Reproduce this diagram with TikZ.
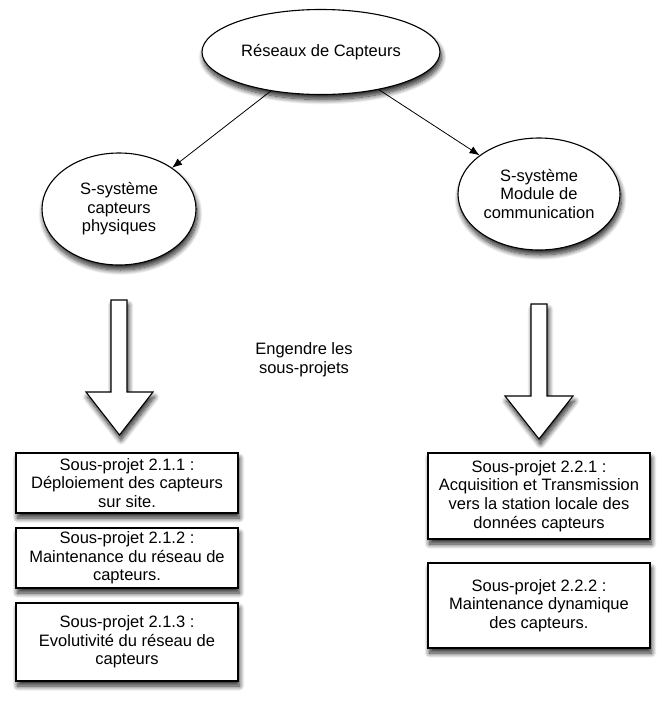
\documentclass[tikz,border=0pt]{standalone}
\usepackage{fontspec}
\setmainfont{Liberation Sans}
\usetikzlibrary{shapes.geometric,arrows.meta,shadows.blur}
\begin{document}
\begin{tikzpicture}[x=1pt,y=-1pt,
  every node/.style={font=\fontsize{16.5}{18.6}\selectfont, align=center, inner sep=0pt},
  shad/.style={blur shadow={shadow xshift=1.5pt, shadow yshift=-5pt, shadow blur radius=5pt, shadow blur steps=12, shadow opacity=85}},
  ell/.style={ellipse, draw=black, line width=1.1pt, fill=white, shad},
  sbox/.style={draw=black, line width=1.1pt, fill=white, minimum width=222pt, shad},
  conn/.style={-{Latex[length=10pt,width=8pt]}, line width=0.8pt},
  barrow/.style={draw=black, line width=1.1pt, fill=white, line join=miter, shad}
]
\useasboundingbox (0,0) rectangle (661,702);

\node[ell, minimum width=238pt, minimum height=85pt] (top) at (321,52) {Réseaux de Capteurs};
\node[ell, minimum width=154pt, minimum height=112pt] (left) at (119,209) {S-système\\capteurs\\physiques};
\node[ell, minimum width=162pt, minimum height=112pt] (right) at (539,194) {S-système\\Module de\\communication};

\draw[conn] (top) -- (left);
\draw[conn] (top) -- (right);

% block arrows
\draw[barrow] (111,300) -- (127,300) -- (127,392) -- (153,392) -- (119.5,435) -- (86,392) -- (111,392) -- cycle;
\draw[barrow] (531,304) -- (547,304) -- (547,396) -- (573,396) -- (539,439) -- (505,396) -- (531,396) -- cycle;

\node (eng) at (304,360) {Engendre les\\sous-projets};

\node[sbox, minimum height=60pt] (b1) at (127,483) {Sous-projet 2.1.1 :\\Déploiement des capteurs\\sur site.};
\node[sbox, minimum height=60pt] (b2) at (127,558) {Sous-projet 2.1.2 :\\Maintenance du réseau de\\capteurs.};
\node[sbox, minimum height=78pt] (b3) at (127,642) {Sous-projet 2.1.3 :\\Evolutivité du réseau de\\capteurs};
\node[sbox, minimum height=86pt] (b4) at (539,496) {Sous-projet 2.2.1 :\\Acquisition et Transmission\\vers la station locale des\\données capteurs};
\node[sbox, minimum height=85pt] (b5) at (539,605.5) {Sous-projet 2.2.2 :\\Maintenance dynamique\\des capteurs.};
\end{tikzpicture}
\end{document}
